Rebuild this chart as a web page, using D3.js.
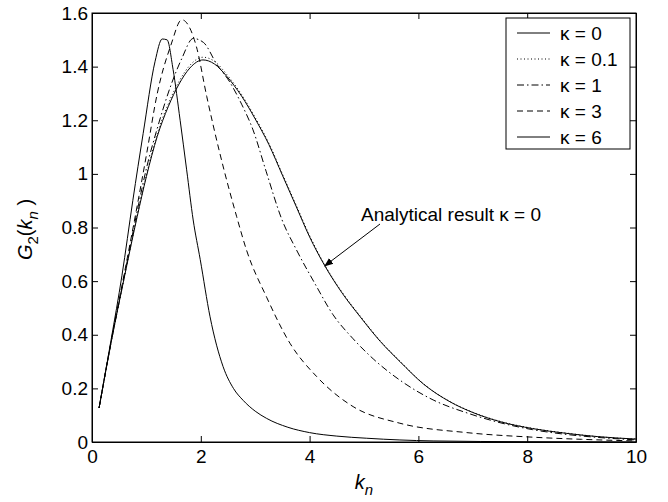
<!DOCTYPE html>
<html>
<head>
<meta charset="utf-8">
<script src="https://cdn.jsdelivr.net/npm/d3@7"></script>
<style>
  body { margin: 0; background: #fff; }
  svg { display: block; }
  text { font-family: "Liberation Sans", Arial, Helvetica, sans-serif; fill: #000; }
</style>
</head>
<body>
<div id="chart"></div>
<script>
// values
const xTicks = [0, 2, 4, 6, 8, 10];
const yTicks = [0, 0.2, 0.4, 0.6, 0.8, 1, 1.2, 1.4, 1.6];
const kappaLabels = ["κ = 0", "κ = 0.1", "κ = 1", "κ = 3", "κ = 6"];

// kappa = 0
const k0 = [0.13, 0.35, 0.6, 0.83, 1.0, 1.2, 1.4, 1.6, 1.8, 2.04, 2.25, 2.48, 2.75, 3.0, 3.25, 3.5, 3.75, 4.0, 4.28, 4.6, 4.93, 5.3, 5.66, 6.1, 6.58, 7.0, 7.5, 8.1, 8.73, 9.3, 10];
const g0 = [0.127, 0.37, 0.62, 0.84, 0.99, 1.14, 1.25, 1.335, 1.395, 1.425, 1.41, 1.363, 1.29, 1.205, 1.11, 0.995, 0.88, 0.765, 0.657, 0.555, 0.467, 0.375, 0.30, 0.215, 0.15, 0.11, 0.076, 0.05, 0.032, 0.02, 0.011];
// kappa = 0.1
const g01 = [0.127, 0.37, 0.62, 0.845, 0.995, 1.15, 1.26, 1.345, 1.405, 1.435, 1.42, 1.37, 1.296, 1.21, 1.115, 1.0, 0.885, 0.77, 0.66, 0.558, 0.47, 0.377, 0.302, 0.216, 0.151, 0.111, 0.077, 0.051, 0.033, 0.02, 0.011];
// kappa = 1
const k1 = [0.13, 0.35, 0.6, 0.83, 1.0, 1.2, 1.45, 1.65, 1.86, 2.05, 2.29, 2.54, 2.75, 2.96, 3.2, 3.49, 3.76, 4.1, 4.43, 4.8, 5.17, 5.7, 6.27, 6.9, 7.5, 8.1, 8.73, 9.3, 10];
const g1 = [0.127, 0.37, 0.625, 0.86, 1.02, 1.17, 1.33, 1.43, 1.505, 1.49, 1.41, 1.34, 1.26, 1.164, 1.01, 0.83, 0.716, 0.59, 0.475, 0.385, 0.31, 0.225, 0.157, 0.108, 0.072, 0.046, 0.028, 0.017, 0.008];
// kappa = 3
const k3 = [0.13, 0.35, 0.6, 0.83, 1.0, 1.2, 1.45, 1.65, 1.92, 2.11, 2.35, 2.66, 2.84, 3.21, 3.64, 4.13, 4.8, 5.66, 6.89, 8.1, 9.0, 10];
const g3 = [0.127, 0.375, 0.635, 0.88, 1.07, 1.30, 1.48, 1.575, 1.474, 1.288, 1.077, 0.84, 0.716, 0.54, 0.368, 0.244, 0.132, 0.07, 0.035, 0.018, 0.01, 0.004];
// kappa = 6
const k6 = [0.13, 0.35, 0.55, 0.75, 0.94, 1.16, 1.29, 1.38, 1.49, 1.62, 1.74, 1.86, 1.99, 2.17, 2.41, 2.6, 2.78, 3.0, 3.21, 3.6, 4.0, 4.5, 5.05, 6.27, 8, 10];
const g6 = [0.127, 0.38, 0.62, 0.90, 1.15, 1.42, 1.503, 1.50, 1.39, 1.20, 1.015, 0.828, 0.68, 0.467, 0.281, 0.20, 0.155, 0.115, 0.088, 0.055, 0.035, 0.022, 0.014, 0.004, 0.001, 0];

const series = [
  {k: k0, g: g0, dash: null},
  {k: k0, g: g01, dash: "1,2.5"},
  {k: k1, g: g1, dash: "7,3,1.5,3"},
  {k: k3, g: g3, dash: "6,4"},
  {k: k6, g: g6, dash: null}
];

const W = 668, H = 502;
const margin = {top: 13, right: 32, bottom: 60, left: 92};

const svg = d3.select("#chart").append("svg")
  .attr("width", W).attr("height", H);

const x = d3.scaleLinear().domain([0, 10]).range([margin.left, W - margin.right]);
const y = d3.scaleLinear().domain([0, 1.6]).range([H - margin.bottom, margin.top]);

svg.append("defs").append("marker")
  .attr("id", "arrow")
  .attr("viewBox", "0 0 10 10")
  .attr("refX", 9).attr("refY", 5)
  .attr("markerWidth", 9).attr("markerHeight", 9)
  .attr("markerUnits", "userSpaceOnUse")
  .attr("orient", "auto")
  .append("path").attr("d", "M0,1 L10,5 L0,9 Z").attr("fill", "#000");

// curves
const line = d3.line()
  .x(d => x(d[0]))
  .y(d => y(d[1]))
  .curve(d3.curveMonotoneX);

series.forEach(s => {
  svg.append("path")
    .datum(s.k.map((k, j) => [k, s.g[j]]))
    .attr("fill", "none")
    .attr("stroke", "#000")
    .attr("stroke-width", 1)
    .attr("stroke-dasharray", s.dash)
    .attr("d", line);
});

// axes (ticks inward on all four sides)
const fs = 19;
svg.append("g")
  .attr("transform", `translate(0,${y(0)})`)
  .call(d3.axisBottom(x).tickValues(xTicks).tickSizeInner(-6).tickSizeOuter(0).tickPadding(8).tickFormat(d3.format("d")));
svg.append("g")
  .attr("transform", `translate(${x(0)},0)`)
  .call(d3.axisLeft(y).tickValues(yTicks).tickSizeInner(-6).tickSizeOuter(0).tickPadding(4).tickFormat(d => d === 0 || d === 1 ? d3.format("d")(d) : d3.format(".1f")(d)));
svg.append("g")
  .attr("transform", `translate(0,${y(1.6)})`)
  .call(d3.axisTop(x).tickValues(xTicks).tickSizeInner(-6).tickSizeOuter(0).tickFormat(""));
svg.append("g")
  .attr("transform", `translate(${x(10)},0)`)
  .call(d3.axisRight(y).tickValues(yTicks).tickSizeInner(-6).tickSizeOuter(0).tickFormat(""));

svg.selectAll(".domain").attr("stroke", "#000");
svg.selectAll(".tick line").attr("stroke", "#000");
svg.selectAll(".tick text").attr("font-size", fs).attr("font-family", "Liberation Sans, Arial, sans-serif");

// frame
svg.append("rect")
  .attr("x", x(0)).attr("y", y(1.6))
  .attr("width", x(10) - x(0)).attr("height", y(0) - y(1.6))
  .attr("fill", "none").attr("stroke", "#000");

// axis labels
const xl = svg.append("text")
  .attr("x", (x(0) + x(10)) / 2).attr("y", 489)
  .attr("text-anchor", "middle").attr("font-size", 20);
xl.append("tspan").attr("font-style", "italic").text("k");
xl.append("tspan").attr("font-style", "italic").attr("font-size", 15).attr("dy", 6).text("n");

const yl = svg.append("text")
  .attr("transform", `translate(32,${(y(0) + y(1.6)) / 2 + 2}) rotate(-90)`)
  .attr("text-anchor", "middle").attr("font-size", 20);
yl.append("tspan").attr("font-style", "italic").text("G");
yl.append("tspan").attr("font-size", 15).attr("dy", 6).text("2");
yl.append("tspan").attr("dy", -6).text("(");
yl.append("tspan").attr("font-style", "italic").text("k");
yl.append("tspan").attr("font-style", "italic").attr("font-size", 15).attr("dy", 6).text("n");
yl.append("tspan").attr("dy", -6).text(" )");

// legend
const lg = svg.append("g");
lg.append("rect")
  .attr("x", 506).attr("y", 18).attr("width", 124).attr("height", 131)
  .attr("fill", "#fff").attr("stroke", "#000");
kappaLabels.forEach((lab, i) => {
  const ly = 33 + i * 26;
  lg.append("line")
    .attr("x1", 517).attr("x2", 550).attr("y1", ly).attr("y2", ly)
    .attr("stroke", "#000").attr("stroke-dasharray", series[i].dash);
  lg.append("text")
    .attr("x", 560).attr("y", ly).attr("dy", "0.35em")
    .attr("font-size", fs).text(lab);
});

// annotation
svg.append("text")
  .attr("x", 361).attr("y", 221)
  .attr("font-size", fs).text("Analytical result κ = 0");
svg.append("line")
  .attr("x1", 380).attr("y1", 224).attr("x2", x(4.28)).attr("y2", y(0.657))
  .attr("stroke", "#000").attr("marker-end", "url(#arrow)");
</script>
</body>
</html>
